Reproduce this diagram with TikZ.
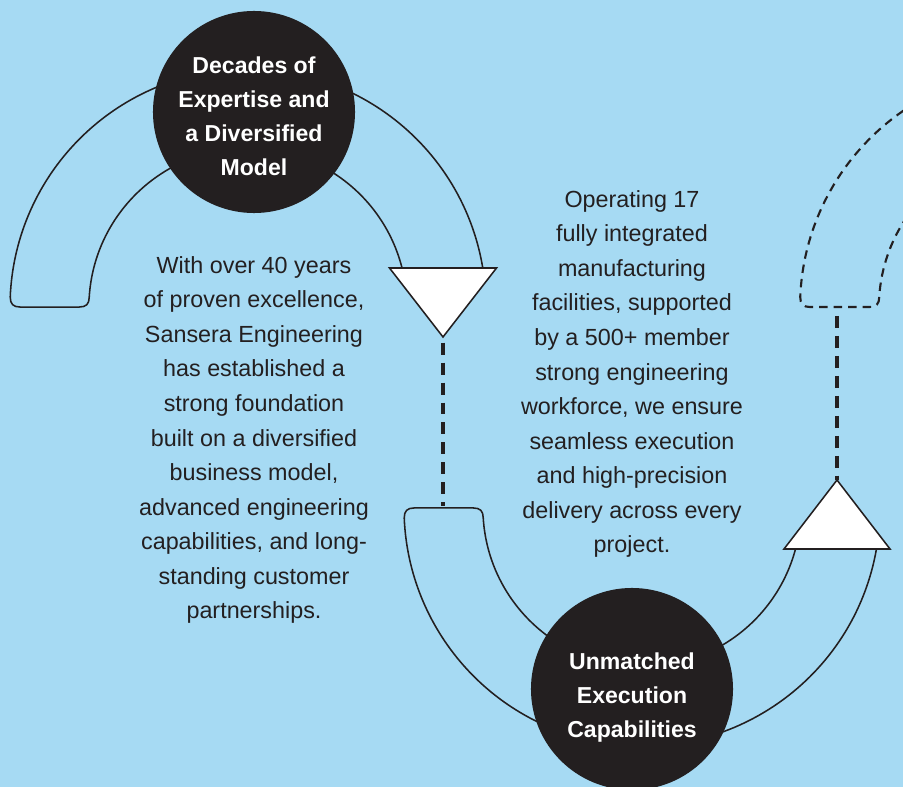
\documentclass[tikz,border=0pt]{standalone}
\usepackage{fontspec}
\setmainfont{Liberation Sans}
\definecolor{sky}{HTML}{A6DAF3}
\definecolor{ink}{HTML}{231F20}
\tikzset{
  band/.style={draw=ink, line width=1.1pt},
  trail/.style={draw=ink, line width=1.5pt, dash pattern=on 6pt off 4.3pt},
  link/.style={draw=ink, line width=2.2pt, dash pattern=on 8.5pt off 5.7pt},
  hub/.style={circle, fill=ink, minimum size=5.05cm, inner sep=0pt},
  hubtext/.style={text=white, align=center, font=\fontsize{16.4}{24.2}\selectfont\bfseries},
  body/.style={text=ink, align=center, font=\fontsize{16.6}{24.6}\selectfont},
  arrowhead/.style={fill=white, draw=ink, line width=1.1pt, line join=miter}
}
\begin{document}
\begin{tikzpicture}[x=0.025cm, y=0.025cm]
  \useasboundingbox (0,0) rectangle (903,-787);
  \fill[sky] (0,0) rectangle (903,-787);
  \clip (0,0) rectangle (903,-787);
  % band centres
  \coordinate (topC) at (248,-307);
  \coordinate (lowC) at (642,-508);
  \coordinate (farC) at (1038,-307);
  % upper band
  \draw[band] ([shift={(9.5:238)}]topC) arc[start angle=9.5, end angle=177.6, radius=238]
    .. controls +(0,-7) and +(-7,0) .. ++(10,-10) -- ++(59,0)
    .. controls +(7,0) and +(0,-7) .. ++(10,10)
    arc[start angle=176.4, end angle=14.2, radius=159];
  % lower band
  \draw[band] ([shift={(350.1:238)}]lowC) arc[start angle=350.1, end angle=182.4, radius=238]
    .. controls +(0,7) and +(-7,0) .. ++(10,10) -- ++(59,0)
    .. controls +(7,0) and +(0,7) .. ++(10,-10)
    arc[start angle=183.6, end angle=345, radius=159];
  % dashed band on the right
  \draw[trail] ([shift={(100:238)}]farC) arc[start angle=100, end angle=177.6, radius=238]
    .. controls +(0,-7) and +(-7,0) .. ++(10,-10) -- ++(59,0)
    .. controls +(7,0) and +(0,-7) .. ++(10,10)
    arc[start angle=176.4, end angle=100, radius=159];
  % hubs
  \node[hub] (decades) at (254,-112) {};
  \node[hub] (execution) at (632,-689) {};
  \node[hubtext] (decadesText) at ([yshift=-2.8pt]decades) {Decades of\\Expertise and\\a Diversified\\Model};
  \node[hubtext] (executionText) at ([yshift=-6.4pt]execution) {Unmatched\\Execution\\Capabilities};
  % arrow heads
  \coordinate (tipA) at (443,-337);
  \coordinate (tipB) at (837,-480);
  \draw[arrowhead] (tipA) -- ++(-53.5,69) -- ++(107,0) -- cycle;
  \draw[arrowhead] (tipB) -- ++(-53,-69) -- ++(106,0) -- cycle;
  % dashed links
  \coordinate (capB) at (443,-506);
  \coordinate (capC) at (837,-316);
  \draw[link] ([yshift=-4pt]tipA) -- (capB);
  \draw[link] (capC) -- (tipB);
  % texts
  \node[body] (legacy) at (254,-440) {With over 40 years\\of proven excellence,\\Sansera Engineering\\has established a\\strong foundation\\built on a diversified\\business model,\\advanced engineering\\capabilities, and long-\\standing customer\\partnerships.};
  \node[body] (scale) at (632,-374) {Operating 17\\fully integrated\\manufacturing\\facilities, supported\\by a 500+ member\\strong engineering\\workforce, we ensure\\seamless execution\\and high-precision\\delivery across every\\project.};
\end{tikzpicture}
\end{document}
